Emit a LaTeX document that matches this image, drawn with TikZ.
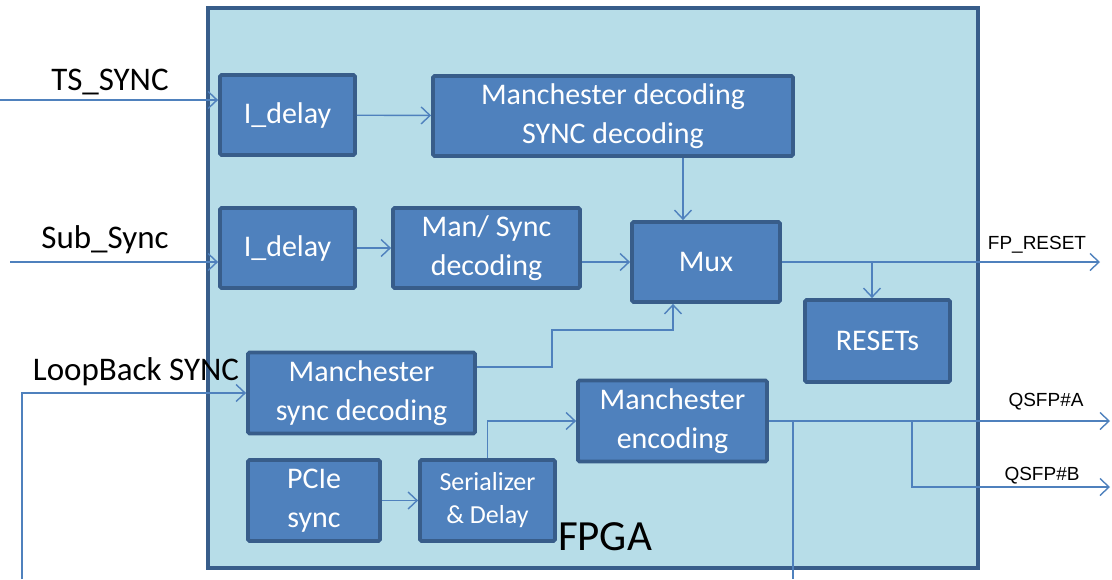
\documentclass[tikz,border=0pt]{standalone}
\usepackage{fontspec}
\setmainfont{Carlito}
\newfontfamily\arialfont{Liberation Sans}
\usetikzlibrary{arrows.meta}
\definecolor{fpgafill}{RGB}{183, 221, 232}
\definecolor{blockfill}{RGB}{79, 129, 189}
\definecolor{blockline}{RGB}{56, 93, 138}
\definecolor{wire}{RGB}{79, 129, 189}

\begin{document}
\begin{tikzpicture}[x=1pt, y=-1pt,
    block/.style={draw=blockline, fill=blockfill, line width=3.8pt, rounded corners=1.5pt,
      text=white, align=center, font=\fontsize{30}{38.5}\selectfont, inner sep=0pt},
    wire/.style={draw=wire, line width=1.4pt},
    arr/.style={wire, -{Straight Barb[length=9pt, width=17pt, line width=1.4pt]}},
    inlabel/.style={font=\fontsize{33}{36}\selectfont},
    outlabel/.style={font=\arialfont\fontsize{19}{21}\selectfont}]
    \useasboundingbox (0,0) rectangle (1112,579);

    % FPGA area
    \node[draw=blockline, fill=fpgafill, line width=4.5pt, minimum width=770pt, minimum height=560pt,
      inner sep=0pt] (fpga) at (593,288) {};
    \node[font=\fontsize{43}{46}\selectfont] (fpgalbl) at (605,537) {FPGA};

    % blocks
    \node[block, minimum width=135pt, minimum height=80pt] (dlyA) at (287.5,115) {I\_delay};
    \node[block, minimum width=360pt, minimum height=80pt] (mandec) at (613,116) {Manchester decoding\\SYNC decoding};
    \node[block, minimum width=135pt, minimum height=80pt] (dlyB) at (287.5,248) {I\_delay};
    \node[block, minimum width=187pt, minimum height=80pt] (mansync) at (486.5,248) {Man/ Sync\\decoding};
    \node[block, minimum width=148pt, minimum height=80pt] (mux) at (706,262) {Mux};
    \node[block, minimum width=145pt, minimum height=82pt] (resets) at (877.5,341) {RESETs};
    \node[block, minimum width=227pt, minimum height=81pt] (lbdec) at (361.5,393) {Manchester\\sync decoding};
    \node[block, minimum width=189pt, minimum height=81pt] (menc) at (672.5,421) {Manchester\\encoding};
    \node[block, minimum width=132pt, minimum height=81pt] (pcie) at (314,500.5) {PCIe\\sync};
    \node[block, minimum width=135pt, minimum height=81pt, font=\fontsize{26}{33}\selectfont] (ser) at (487.5,500.5) {Serializer\\\& Delay};

    % inputs
    \coordinate (tsin) at (0,100);
    \coordinate (subin) at (10,262);
    \coordinate (lbin) at (22,579);
    \node[inlabel] (tslbl) at (110,82) {TS\_SYNC};
    \node[inlabel] (sublbl) at (105,240) {Sub\_Sync};
    \node[inlabel] (lblbl) at (136,372) {LoopBack SYNC};
    \draw[arr] (tsin) -- (tsin -| dlyA.west);
    \draw[arr] (subin) -- (subin -| dlyB.west);
    \draw[arr] (lbin) |- (lbdec.west);

    % internal wires
    \coordinate (lbturn) at (552,330);
    \draw[arr] (dlyA) -- (mandec);
    \draw[arr] ([xshift=-23pt]mux.north |- mandec.south) -- ([xshift=-23pt]mux.north);
    \draw[arr] (dlyB) -- (mansync);
    \draw[arr] ([yshift=-14pt]mansync.east) -- (mux.west);
    \draw[arr] ([yshift=26pt]lbdec.east) -| (lbturn) -| ([xshift=-33pt]mux.south);
    \draw[arr] (pcie) -- (ser);
    \draw[arr] (ser.north) |- (menc.west);

    % outputs
    \coordinate (fpout) at (1100,262);
    \coordinate (fpbr) at (872,262);
    \coordinate (qaout) at (1110,421);
    \coordinate (qabr) at (912,421);
    \coordinate (qbout) at (1110,487);
    \coordinate (loopup) at (793,421);
    \coordinate (loopdn) at (793,579);
    \draw[arr] (mux.east) -- (fpout);
    \draw[arr] (fpbr) -- (fpbr |- resets.north);
    \draw[arr] (menc.east) -- (qaout);
    \draw[arr] (qabr) |- (qbout);
    \draw[wire] (loopup) -- (loopdn);
    \node[outlabel] (fplbl) at (1037,245) {FP\_RESET};
    \node[outlabel] (qalbl) at (1046,402) {QSFP\#A};
    \node[outlabel] (qblbl) at (1042,476) {QSFP\#B};
\end{tikzpicture}
\end{document}
